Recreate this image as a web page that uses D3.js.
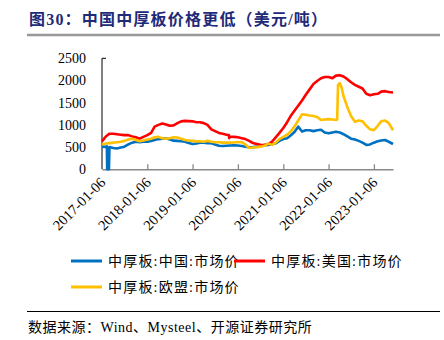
<!DOCTYPE html>
<html><head><meta charset="utf-8">
<script src="https://cdn.jsdelivr.net/npm/d3@7"></script>
<style>
html,body{margin:0;padding:0;background:#fff;}
svg{display:block;}
</style></head>
<body>
<svg id="c" width="444" height="340"></svg>
<script>
const title = "图30：中国中厚板价格更低（美元/吨）";
const source = "数据来源：Wind、Mysteel、开源证券研究所";
const seriesNames = ["中厚板:中国:市场价", "中厚板:美国:市场价", "中厚板:欧盟:市场价"];
const seriesColors = ["#0070C0", "#FF0000", "#FFC000"];
const yTicks = [0, 500, 1000, 1500, 2000, 2500];
const xTickLabels = ["2017-01-06","2018-01-06","2019-01-06","2020-01-06","2021-01-06","2022-01-06","2023-01-06"];
const xDomain = ["2017-01-06", "2023-06-09"];

const chinaDates = ["2017-01-06","2017-02-06","2017-02-14","2017-02-17","2017-03-03","2017-03-07","2017-04-06","2017-05-06","2017-06-06","2017-07-06","2017-08-06","2017-09-06","2017-10-06","2017-11-06","2017-12-06",
"2018-01-06","2018-02-06","2018-03-06","2018-04-06","2018-05-06","2018-06-06","2018-07-06","2018-08-06","2018-09-06","2018-10-06","2018-11-06","2018-12-06",
"2019-01-06","2019-02-06","2019-03-06","2019-04-06","2019-05-06","2019-06-06","2019-07-06","2019-08-06","2019-09-06","2019-10-06","2019-11-06","2019-12-06",
"2020-01-06","2020-02-06","2020-03-06","2020-04-06","2020-05-06","2020-06-06","2020-07-06","2020-08-06","2020-09-06","2020-10-06","2020-11-06","2020-12-06",
"2021-01-06","2021-02-06","2021-03-06","2021-04-06","2021-05-06","2021-06-06","2021-07-06","2021-08-06","2021-09-06","2021-10-06","2021-11-06","2021-12-06",
"2022-01-06","2022-02-06","2022-03-06","2022-04-06","2022-05-06","2022-06-06","2022-07-06","2022-08-06","2022-09-06","2022-10-06","2022-11-06","2022-12-06",
"2023-01-06","2023-02-06","2023-03-06","2023-04-06","2023-05-06","2023-06-09"];
const chinaValues = [510,505,520,0,0,500,480,470,490,510,560,600,620,610,620,
620,640,660,680,690,700,670,645,640,630,620,590,
570,580,600,600,590,585,560,530,525,530,535,540,
535,525,510,495,500,510,530,545,550,565,585,640,
680,700,760,840,960,850,880,880,860,880,890,830,
810,830,845,830,790,740,690,670,640,600,550,560,
600,630,650,660,620,570];

const usDates = ["2017-01-06","2017-02-06","2017-03-06","2017-04-06","2017-05-06","2017-06-06","2017-07-06","2017-08-06","2017-09-06","2017-10-06","2017-11-06","2017-12-06",
"2018-01-06","2018-02-06","2018-03-06","2018-04-06","2018-05-06","2018-06-06","2018-07-06","2018-08-06","2018-09-06","2018-10-06","2018-11-06","2018-12-06",
"2019-01-06","2019-02-06","2019-03-06","2019-04-06","2019-05-06","2019-06-06","2019-07-06","2019-08-06","2019-09-06","2019-10-06","2019-10-25","2019-10-28","2019-11-02","2019-12-06",
"2020-01-06","2020-02-06","2020-03-06","2020-04-06","2020-05-06","2020-06-06","2020-07-06","2020-08-06","2020-09-06","2020-10-06","2020-11-06","2020-12-06",
"2021-01-06","2021-02-06","2021-03-06","2021-04-06","2021-05-06","2021-06-06","2021-07-06","2021-08-06","2021-09-06","2021-10-06","2021-11-06","2021-12-06",
"2022-01-06","2022-02-06","2022-03-06","2022-04-06","2022-05-06","2022-06-06","2022-07-06","2022-08-06","2022-09-06","2022-10-06","2022-11-06","2022-12-06",
"2023-01-06","2023-02-06","2023-03-06","2023-04-06","2023-05-06","2023-06-09"];
const usValues = [630,740,800,800,790,780,770,770,740,720,690,730,
770,820,960,1000,1030,1010,980,990,1040,1080,1090,1085,
1080,1060,1060,1040,1000,900,860,820,800,780,770,700,740,730,
720,700,680,640,590,570,550,545,570,620,720,820,
930,1060,1200,1320,1430,1550,1680,1800,1920,1990,2050,2080,
2080,2050,2110,2120,2090,2030,1960,1900,1860,1820,1700,1670,
1690,1700,1750,1760,1740,1730];

const euDates = ["2017-01-06","2017-02-06","2017-03-06","2017-04-06","2017-05-06","2017-06-06","2017-07-06","2017-08-06","2017-09-06","2017-10-06","2017-11-06","2017-12-06",
"2018-01-06","2018-02-06","2018-03-06","2018-04-06","2018-05-06","2018-06-06","2018-07-06","2018-08-06","2018-09-06","2018-10-06","2018-11-06","2018-12-06",
"2019-01-06","2019-02-06","2019-03-06","2019-04-06","2019-05-06","2019-06-06","2019-07-06","2019-08-06","2019-09-06","2019-10-06","2019-11-06","2019-12-06",
"2020-01-06","2020-02-06","2020-03-06","2020-04-06","2020-05-06","2020-06-06","2020-07-06","2020-08-06","2020-09-06","2020-10-06","2020-11-06","2020-12-06",
"2021-01-06","2021-02-06","2021-03-06","2021-04-06","2021-05-06","2021-06-06","2021-07-06","2021-08-06","2021-09-06","2021-10-06","2021-11-06","2021-12-06",
"2022-01-06","2022-02-06","2022-03-06","2022-03-16","2022-03-23","2022-04-06","2022-04-20","2022-05-06","2022-06-06","2022-07-06","2022-08-06","2022-09-06","2022-10-06","2022-11-06","2022-12-06",
"2023-01-06","2023-02-06","2023-03-06","2023-04-06","2023-05-06","2023-06-09"];
const euValues = [560,580,590,600,610,620,640,670,690,660,630,650,
670,690,720,730,700,690,700,720,715,690,660,650,
640,630,630,620,640,620,610,610,600,600,600,605,
615,610,560,480,490,500,510,530,580,550,600,680,
730,780,850,960,1100,1240,1230,1210,1200,1180,1110,1120,
1130,1120,1110,1120,1900,1940,1850,1650,1400,1200,1070,1100,1080,980,900,
880,980,1080,1100,1040,880];

const parse = d3.timeParse("%Y-%m-%d");
const series = [
  {name: seriesNames[0], color: seriesColors[0], pts: chinaDates.map((d,i)=>({d:parse(d), v:chinaValues[i]}))},
  {name: seriesNames[1], color: seriesColors[1], pts: usDates.map((d,i)=>({d:parse(d), v:usValues[i]}))},
  {name: seriesNames[2], color: seriesColors[2], pts: euDates.map((d,i)=>({d:parse(d), v:euValues[i]}))}
];

const svg = d3.select("#c");
const serif = "'Liberation Serif','DejaVu Serif',serif";
const cjk = "'Liberation Serif','Noto Sans CJK SC',serif";

// Title
svg.append("text").attr("x", 29).attr("y", 25)
  .attr("font-family", cjk).attr("font-weight", "bold").attr("font-size", 16)
  .attr("letter-spacing", 1.2).attr("fill", "#1F2A78").text(title);
svg.append("line").attr("x1", 27).attr("x2", 440).attr("y1", 35).attr("y2", 35)
  .attr("stroke", "#999").attr("stroke-width", 2.5);

const x = d3.scaleTime().domain(xDomain.map(parse)).range([102, 393]);
const y = d3.scaleLinear().domain([0, 2500]).range([169.3, 58.3]);

// Y axis
const gy = svg.append("g").attr("transform", "translate(102,0)")
  .call(d3.axisLeft(y).tickValues(yTicks).tickSize(0).tickPadding(16).tickFormat(d3.format("d")));
gy.select(".domain").remove();
gy.selectAll("text").attr("font-family", serif).attr("font-size", 14).attr("fill", "#000");
svg.append("path").attr("d", `M106,${y(2500)}H102V${y(0)}`).attr("fill","none").attr("stroke","#000").attr("stroke-width",1);

// X axis
const gx = svg.append("g").attr("transform", `translate(0,${y(0)})`)
  .call(d3.axisBottom(x).tickValues(xTickLabels.map(parse)).tickSize(0).tickFormat(d3.timeFormat("%Y-%m-%d")));
gx.select(".domain").attr("stroke", "#888").attr("stroke-width", 1.5);
gx.selectAll(".tick line").attr("y2", -5).attr("stroke", "#888").attr("stroke-width", 1.3);
gx.selectAll(".tick:first-of-type line").remove();
gx.selectAll("text").attr("font-family", serif).attr("font-size", 14.5).attr("fill", "#000")
  .attr("text-anchor", "end").attr("dy", 0).attr("y", 0)
  .attr("transform", "translate(4,14) rotate(-45)");

// Lines
const line = d3.line().x(p => x(p.d)).y(p => y(p.v)).curve(d3.curveLinear);
series.forEach(s => {
  svg.append("path").datum(s.pts).attr("d", line)
    .attr("fill", "none").attr("stroke", s.color).attr("stroke-width", 2.6)
    .attr("stroke-linejoin", "round");
});

// Legend
const leg = [
  {s: series[0], x: 71, y: 261},
  {s: series[1], x: 234, y: 261},
  {s: series[2], x: 71, y: 287}
];
leg.forEach(l => {
  svg.append("line").attr("x1", l.x).attr("x2", l.x + 31).attr("y1", l.y).attr("y2", l.y)
    .attr("stroke", l.s.color).attr("stroke-width", 3);
  svg.append("text").attr("x", l.x + 37).attr("y", l.y + 5)
    .attr("font-family", cjk).attr("font-size", 14).attr("letter-spacing", 1.2)
    .attr("fill", "#000").text(l.s.name);
});

// Source
svg.append("line").attr("x1", 27).attr("x2", 440).attr("y1", 311.5).attr("y2", 311.5)
  .attr("stroke", "#000").attr("stroke-width", 1);
svg.append("text").attr("x", 28).attr("y", 332)
  .attr("font-family", cjk).attr("font-size", 14).attr("letter-spacing", 0.5).attr("fill", "#000").text(source);
</script>
</body></html>
